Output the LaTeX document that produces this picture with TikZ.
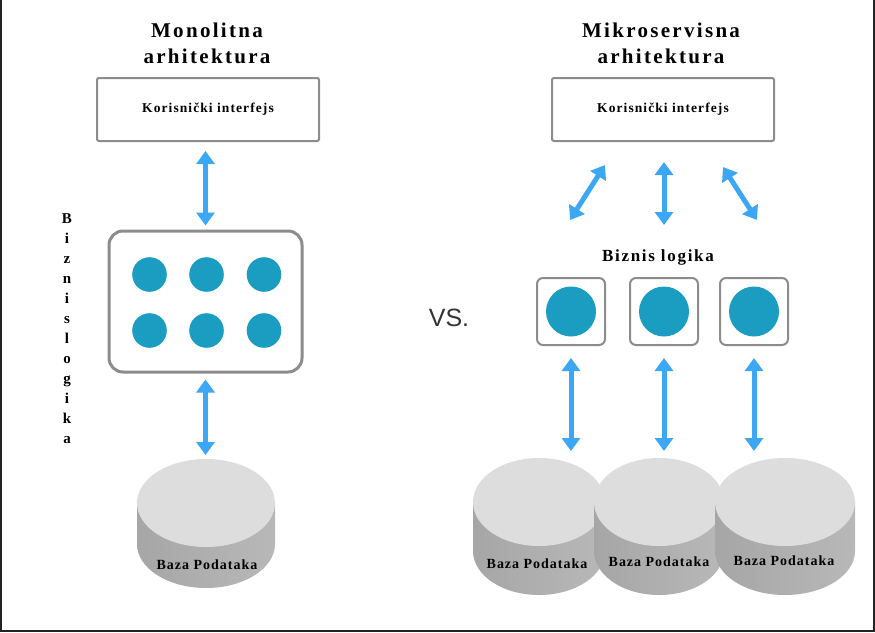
\documentclass[tikz,border=0pt]{standalone}
\usepackage{fontspec}
\setmainfont{Liberation Serif}
\newfontfamily\vsfont{Liberation Sans}
\usetikzlibrary{arrows.meta}
\definecolor{arrowblue}{RGB}{60,168,245}
\definecolor{dotteal}{RGB}{26,157,192}
\definecolor{boxgray}{RGB}{140,140,140}
\definecolor{dbtop}{RGB}{221,221,221}
\definecolor{dbside}{RGB}{166,166,166}
\definecolor{dbsidelight}{RGB}{184,184,184}
\definecolor{framegray}{RGB}{35,35,35}
\definecolor{vsgray}{RGB}{51,51,51}
\newcommand\dbcylinder[5]{%
  \shade[left color=dbside, right color=dbsidelight]
    ({#1-#3},#2) -- ({#1-#3},{#2+#5})
    arc[start angle=180, end angle=0, x radius=#3, y radius=#4]
    -- ({#1+#3},#2) -- cycle;
  \fill[dbtop] (#1,#2) ellipse[x radius=#3, y radius=#4];}
\begin{document}
\begin{tikzpicture}[x=1pt, y=-1pt,
  titletext/.style={align=center, inner sep=0pt,
    font=\fontsize{21}{26}\selectfont\bfseries\addfontfeature{LetterSpace=11}},
  uibox/.style={draw=boxgray, line width=2pt, rounded corners=2pt,
    minimum width=222pt, minimum height=63pt, inner sep=0pt,
    font=\fontsize{13.5}{16}\selectfont\bfseries\addfontfeature{LetterSpace=8}},
  monobox/.style={draw=boxgray, line width=3pt, rounded corners=14pt,
    minimum width=193pt, minimum height=141pt, inner sep=0pt},
  svcbox/.style={draw=boxgray, line width=2pt, rounded corners=6pt,
    minimum width=68pt, minimum height=67pt, inner sep=0pt},
  dot/.style={circle, fill=dotteal, minimum size=34.6pt, inner sep=0pt},
  bigdot/.style={circle, fill=dotteal, minimum size=50pt, inner sep=0pt},
  biarrow/.style={draw=arrowblue, line width=5pt,
    {Triangle[width=18pt,length=13pt]}-{Triangle[width=18pt,length=13pt]}},
  dbtext/.style={inner sep=0pt,
    font=\fontsize{14}{16}\selectfont\bfseries\addfontfeature{LetterSpace=7}},
  logictext/.style={inner sep=0pt,
    font=\fontsize{17}{20}\selectfont\bfseries\addfontfeature{LetterSpace=10}},
  vertext/.style={inner sep=0pt, align=center,
    font=\fontsize{15}{20}\selectfont\bfseries}
]
\useasboundingbox (0,0) rectangle (875,632);
% frame
\draw[framegray, line width=2pt] (1,0) -- (1,630.5) -- (874,630.5) -- (874,0);

% ---------- left: monolith ----------
\node[titletext] (t1) at (207,43) {Monolitna\\arhitektura};
\node[uibox] (ui1) at (208,109.5) {Korisnički interfejs};
\node[monobox] (mono) at (205.5,301.5) {};
\node[dot] (m1) at (149.5,274.5) {};
\node[dot] (m2) at (206.5,274.5) {};
\node[dot] (m3) at (264,274.5) {};
\node[dot] (m4) at (149.5,330.5) {};
\node[dot] (m5) at (206.5,330.5) {};
\node[dot] (m6) at (264,330.5) {};
\node[vertext] (vlogic) at (67,329) {B\\i\\z\\n\\i\\s\\l\\o\\g\\i\\k\\a};

\dbcylinder{206}{503}{69}{44}{41}
\coordinate (db1top) at (206,460);
\node[dbtext] (db1) at (207,565) {Baza Podataka};

\draw[biarrow, shorten <=9pt, shorten >=4pt] (mono.north |- ui1.south) -- (mono.north);
\draw[biarrow, shorten <=6pt, shorten >=5pt] (mono.south) -- (mono.south |- db1top);

% ---------- middle ----------
\node[inner sep=0pt, text=vsgray, font=\vsfont\fontsize{25}{30}\selectfont] (vs) at (449,318) {VS.};

% ---------- right: microservices ----------
\node[titletext] (t2) at (661,43) {Mikroservisna\\arhitektura};
\node[uibox] (ui2) at (663,109.5) {Korisnički interfejs};

\coordinate (ta1) at (605,165);
\coordinate (tb1) at (570,220);
\coordinate (ta2) at (664,162);
\coordinate (tb2) at (664,225);
\coordinate (ta3) at (723,167);
\coordinate (tb3) at (757,220);
\draw[biarrow] (ta1) -- (tb1);
\draw[biarrow] (ta2) -- (tb2);
\draw[biarrow] (ta3) -- (tb3);

\node[logictext] (logic) at (658,257) {Biznis logika};

\node[svcbox] (s1) at (571,311.5) {};
\node[svcbox] (s2) at (664,311.5) {};
\node[svcbox] (s3) at (754,311.5) {};
\node[bigdot] (c1) at (s1) {};
\node[bigdot] (c2) at (s2) {};
\node[bigdot] (c3) at (s3) {};

\dbcylinder{539}{502}{66}{44}{49}
\dbcylinder{659}{502}{65}{44}{49}
\dbcylinder{785}{502}{70}{44}{49}
\coordinate (d1) at (571,451);
\coordinate (d2) at (664,451);
\coordinate (d3) at (754,451);
\node[dbtext] (db2) at (537,564) {Baza Podataka};
\node[dbtext] (db3) at (659,562) {Baza Podataka};
\node[dbtext] (db4) at (784,561) {Baza Podataka};

\draw[biarrow, shorten <=12pt] (s1.south) -- (d1);
\draw[biarrow, shorten <=12pt] (s2.south) -- (d2);
\draw[biarrow, shorten <=12pt] (s3.south) -- (d3);
\end{tikzpicture}
\end{document}
